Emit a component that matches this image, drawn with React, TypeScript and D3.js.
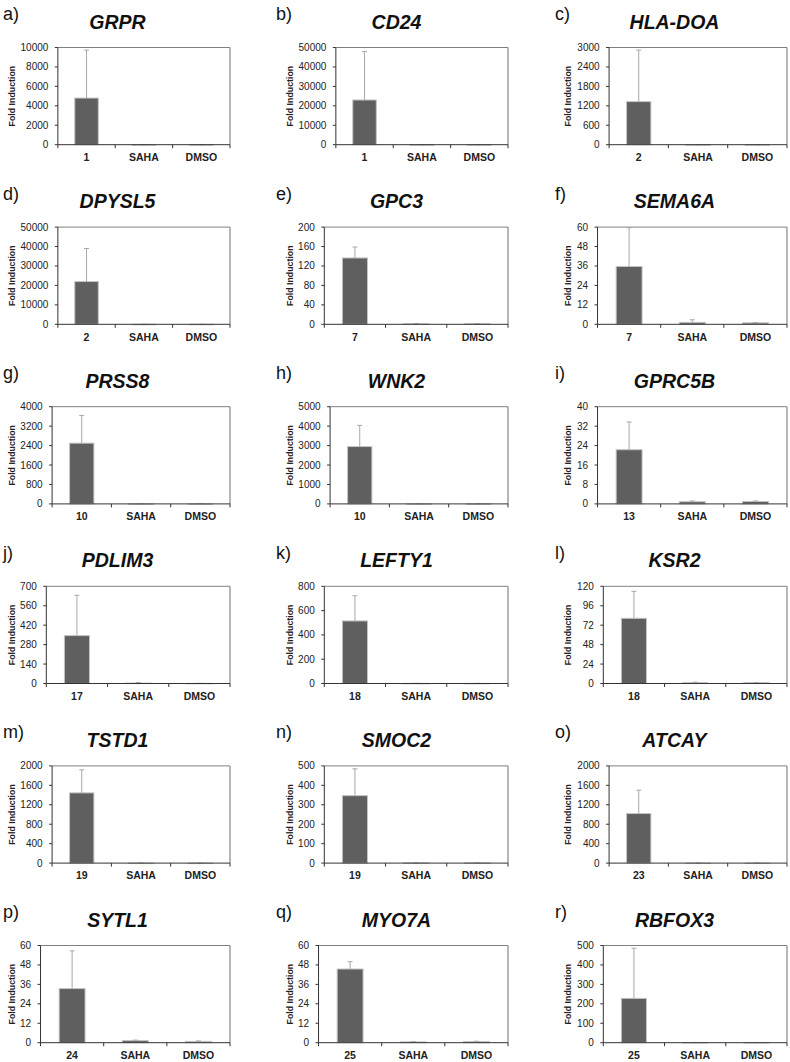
import React from "react";
import * as d3 from "d3";

// ---------- data ----------
const panelLetters = ["a)", "b)", "c)", "d)", "e)", "f)", "g)", "h)", "i)", "j)", "k)", "l)", "m)", "n)", "o)", "p)", "q)", "r)"];
const genes = ["GRPR", "CD24", "HLA-DOA", "DPYSL5", "GPC3", "SEMA6A", "PRSS8", "WNK2", "GPRC5B", "PDLIM3", "LEFTY1", "KSR2", "TSTD1", "SMOC2", "ATCAY", "SYTL1", "MYO7A", "RBFOX3"];
const compounds = ["1", "1", "2", "2", "7", "7", "10", "10", "13", "17", "18", "18", "19", "19", "23", "24", "25", "25"];
const controls = ["SAHA", "DMSO"];
const yMax = [10000, 50000, 3000, 50000, 200, 60, 4000, 5000, 40, 700, 800, 120, 2000, 500, 2000, 60, 60, 500];
const yStep = [2000, 10000, 600, 10000, 40, 12, 800, 1000, 8, 140, 200, 24, 400, 100, 400, 12, 12, 100];
const compoundMean = [4800, 23000, 1330, 22000, 136.5, 35.7, 2500, 2950, 22.3, 345, 515, 80.5, 1445, 347, 1020, 33.4, 45.5, 228];
const compoundSD = [4930, 24900, 1590, 17000, 22.5, 23.9, 1140, 1090, 11.4, 290, 207, 33.3, 475, 138, 480, 23.3, 4.5, 258];
const sahaMean = [1, 1, 1, 1, 1, 1.2, 1, 1, 0.9, 3, 1, 1.1, 1, 1, 1, 1.3, 0.5, 1];
const sahaSD = [0.5, 0.5, 0.5, 0.5, 0.5, 1.6, 0.5, 0.5, 0.3, 4, 0.5, 0.6, 0.5, 0.5, 0.5, 0.3, 0.2, 0.5];
const dmsoMean = [1, 1, 1, 1, 1, 0.9, 1, 1, 1, 1, 1, 1, 1, 1, 1, 0.8, 0.7, 1];
const dmsoSD = [0.2, 0.2, 0.2, 0.2, 0.2, 0.2, 0.2, 0.2, 0.2, 0.2, 0.2, 0.2, 0.2, 0.2, 0.2, 0.3, 0.2, 0.2];

// ---------- layout ----------
const FONT = "'Liberation Sans', Arial, Helvetica, sans-serif";
const ROW_H = 179.6;
const labelX = [3, 276, 555];
const titleCX = [117.5, 396.5, 674.5];
const yTitleX = [12, 290, 568];
const plotRightX = [230, 508, 787];
const PLOT_TOP = 47.5;
const PLOT_BOTTOM = 144.7;
const DIGIT_W = 5.77;

function Panel({ i }: { i: number }) {
  const row = Math.floor(i / 3);
  const col = i % 3;
  const oy = row * ROW_H;
  const fmt = d3.format("d");
  const ticks = d3.range(0, yMax[i] + yStep[i] / 2, yStep[i]);
  const maxChars = d3.max(ticks, (t) => fmt(t).length) as number;
  const right = plotRightX[col];
  const left = right - 201 + maxChars * DIGIT_W;
  const y = d3.scaleLinear().domain([0, yMax[i]]).range([oy + PLOT_BOTTOM, oy + PLOT_TOP]);
  const cats = [compounds[i], ...controls];
  const x = d3.scaleBand<string>().domain(cats).range([left, right]).padding(0);
  const means = [compoundMean[i], sahaMean[i], dmsoMean[i]];
  const sds = [compoundSD[i], sahaSD[i], dmsoSD[i]];
  const bw = x.bandwidth() * 0.41;
  const y0 = y(0);
  const yTop = y(yMax[i]);
  const boundaries = [left, ...cats.slice(1).map((c) => x(c) as number), right];

  return (
    <g>
      <text x={labelX[col]} y={oy + 20} fontSize={18} fontFamily={FONT} fill="#111">
        {panelLetters[i]}
      </text>
      <text
        x={titleCX[col]}
        y={oy + 28.5}
        fontSize={19.5}
        fontWeight="bold"
        fontStyle="italic"
        textAnchor="middle"
        fontFamily={FONT}
        fill="#111"
      >
        {genes[i]}
      </text>
      {/* plot area border */}
      <line x1={left} x2={right} y1={yTop} y2={yTop} stroke="#808080" strokeWidth={1} />
      <line x1={right} x2={right} y1={yTop} y2={y0} stroke="#909090" strokeWidth={1.3} />
      {/* bars */}
      {cats.map((c, k) => {
        const cx = (x(c) as number) + x.bandwidth() / 2;
        const top = y(means[k]);
        const eTop = y(means[k] + sds[k]);
        return (
          <g key={c + k}>
            <rect
              x={cx - bw / 2}
              y={top}
              width={bw}
              height={Math.max(0.5, y0 - top)}
              fill="#5f5f5f"
              stroke="#c4c4c4"
              strokeWidth={1}
            />
            <line x1={cx} x2={cx} y1={top} y2={eTop} stroke="#a8a8a8" strokeWidth={1} />
            <line x1={cx - 2.5} x2={cx + 2.5} y1={eTop} y2={eTop} stroke="#a8a8a8" strokeWidth={1} />
          </g>
        );
      })}
      {/* y axis */}
      <line x1={left} x2={left} y1={yTop} y2={y0} stroke="#333" strokeWidth={1} />
      {ticks.map((t) => (
        <g key={t}>
          <line x1={left - 3} x2={left} y1={y(t)} y2={y(t)} stroke="#333" strokeWidth={1} />
          <text
            x={left - 9.5}
            y={y(t)}
            dy="0.35em"
            textAnchor="end"
            fontSize={10}
            fontFamily={FONT}
            fill="#222"
          >
            {fmt(t)}
          </text>
        </g>
      ))}
      <text
        transform={`translate(${yTitleX[col] + 3},${(y0 + yTop) / 2}) rotate(-90)`}
        textAnchor="middle"
        fontSize={8.8}
        fontWeight="bold"
        fontFamily={FONT}
        fill="#222"
      >
        Fold Induction
      </text>
      {/* x axis */}
      <line x1={left} x2={right} y1={y0} y2={y0} stroke="#333" strokeWidth={1} />
      {boundaries.map((b, k) => (
        <line key={k} x1={b} x2={b} y1={y0} y2={y0 + 3.5} stroke="#333" strokeWidth={1} />
      ))}
      {cats.map((c, k) => (
        <text
          key={c + "l" + k}
          x={(x(c) as number) + x.bandwidth() / 2}
          y={oy + 161}
          textAnchor="middle"
          fontSize={10.5}
          fontWeight="bold"
          fontFamily={FONT}
          fill="#222"
        >
          {c}
        </text>
      ))}
    </g>
  );
}

export default function App() {
  return (
    <svg
      width={790}
      height={1062}
      style={{ position: "absolute", left: 0, top: 0, background: "#fff" }}
    >
      <rect width={790} height={1062} fill="#fff" />
      {genes.map((_, i) => (
        <Panel key={i} i={i} />
      ))}
    </svg>
  );
}
